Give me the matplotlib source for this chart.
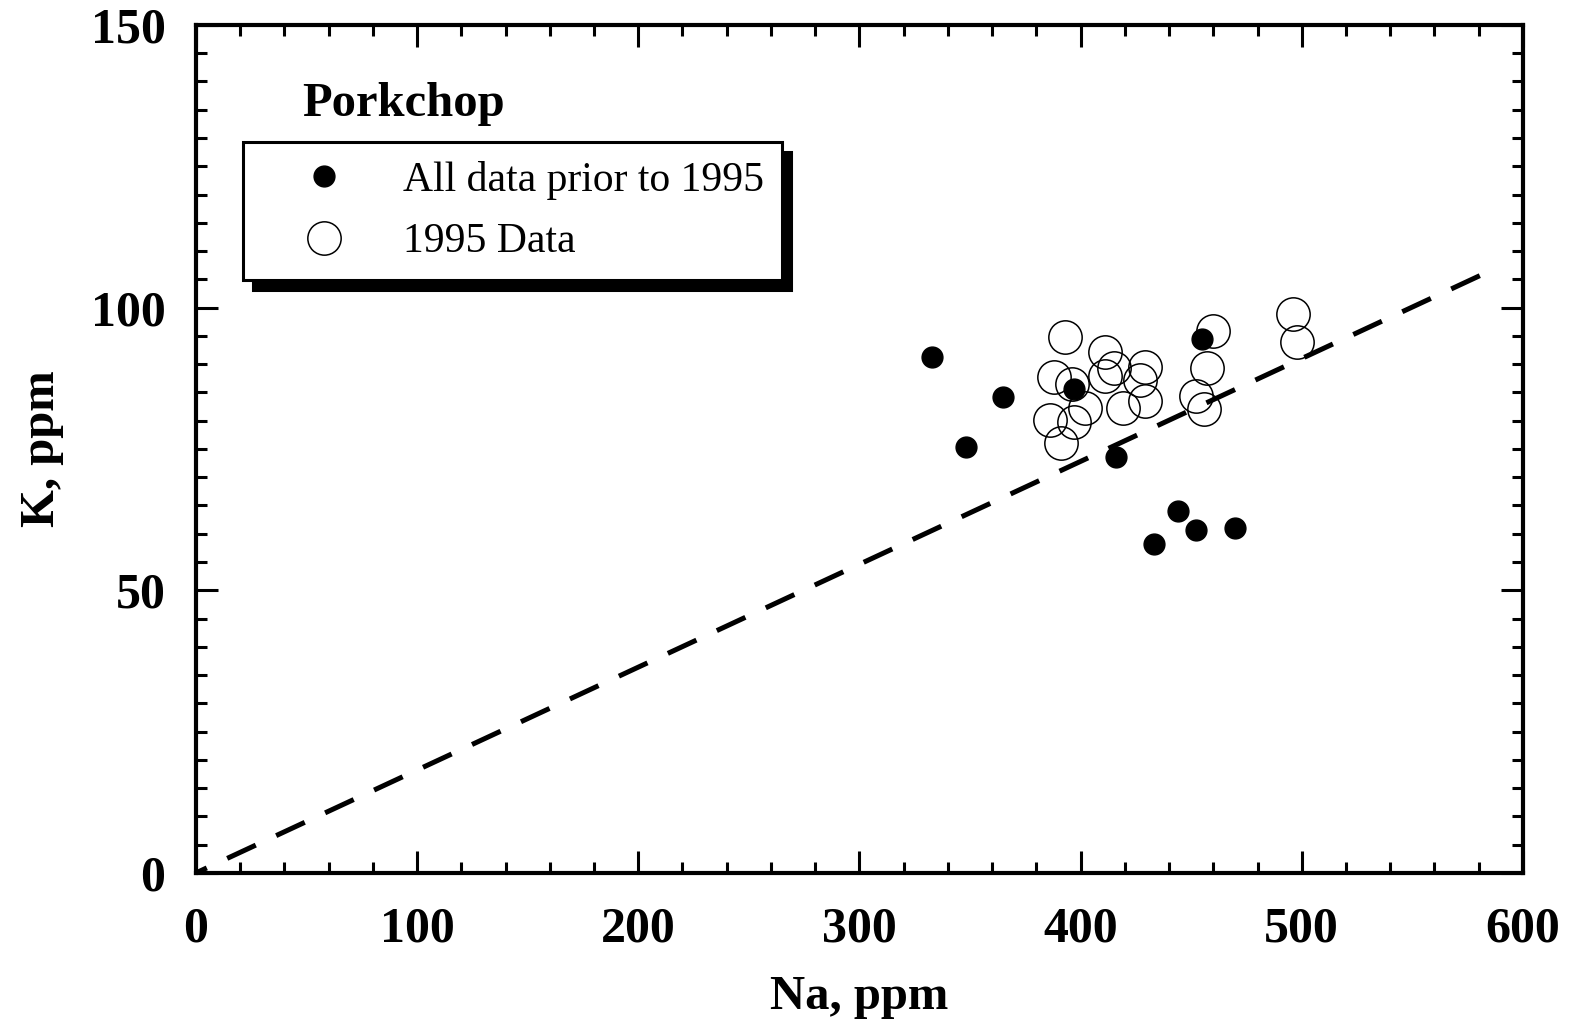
import numpy as np
import matplotlib.pyplot as plt
from matplotlib.ticker import MultipleLocator

# Data
na_prior = [333, 348, 365, 397, 416, 455, 444, 433, 452, 470]
k_prior = [91.3, 75.4, 84.2, 85.6, 73.6, 94.5, 64.0, 58.2, 60.7, 61.0]

na_1995 = [393, 411, 388, 396, 411, 415, 429, 427, 402, 386,
           397, 391, 419, 429, 460, 457, 452, 456, 496, 498]
k_1995 = [94.8, 92.1, 87.7, 86.5, 87.9, 89.3, 89.5, 87.2, 82.3, 80.1,
          79.8, 76.1, 82.3, 83.5, 95.9, 89.3, 84.4, 82.1, 98.9, 93.9]

# reference line K/Na
ratio_na = [0, 581]
ratio_slope = 0.182

plt.rcParams['font.family'] = ['Liberation Serif', 'DejaVu Serif']

fig = plt.figure(figsize=(15.7, 10.27), dpi=100)
ax = fig.add_axes([0.1248, 0.15, 0.8452, 0.8257])

ax.plot(ratio_na, [v * ratio_slope for v in ratio_na], color='k', lw=3.6,
        ls=(3.9, (6.3, 4.5)), dash_capstyle='butt')

ax.plot(na_prior, k_prior, 'o', ms=15, color='k', mec='k',
        label='All data prior to 1995', zorder=3)
ax.plot(na_1995, k_1995, 'o', ms=24, mfc='none', mec='k', mew=1.1,
        label='1995 Data', zorder=3)

ax.set_xlim(0, 600)
ax.set_ylim(0, 150)
ax.xaxis.set_major_locator(MultipleLocator(100))
ax.xaxis.set_minor_locator(MultipleLocator(20))
ax.yaxis.set_major_locator(MultipleLocator(50))
ax.yaxis.set_minor_locator(MultipleLocator(5))
ax.tick_params(which='both', direction='in', top=True, right=True, width=2.2)
ax.tick_params(which='major', length=16, labelsize=36)
ax.tick_params(which='minor', length=8)
ax.tick_params(axis='x', which='major', pad=24)
ax.tick_params(axis='y', which='major', pad=22)
for lab in ax.get_xticklabels() + ax.get_yticklabels():
    lab.set_fontweight('bold')
for s in ax.spines.values():
    s.set_linewidth(3)

ax.set_xlabel('Na, ppm', fontsize=35, fontweight='bold', labelpad=16)
ax.set_ylabel('K, ppm', fontsize=35, fontweight='bold', labelpad=19)

ax.text(48, 136, 'Porkchop', fontsize=35, fontweight='bold', va='center', ha='left')

leg = ax.legend(loc='upper left', bbox_to_anchor=(0.0354, 0.862, 0.406, 0.0),
                mode='expand', fontsize=30, fancybox=False, framealpha=1,
                edgecolor='k', borderpad=0.45, handlelength=3.0,
                handletextpad=0.4, labelspacing=0.55, borderaxespad=0,
                shadow={'ox': 7, 'oy': -7, 'facecolor': 'k', 'edgecolor': 'k', 'alpha': 1})
leg.get_frame().set_linewidth(2.2)

fig.savefig('out.png', dpi=100)
